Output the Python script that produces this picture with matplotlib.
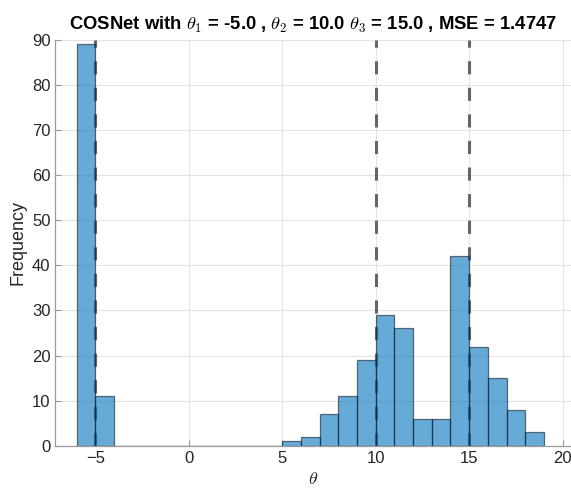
import numpy as np
import matplotlib.pyplot as plt

plt.rcParams['font.family'] = ['Liberation Sans', 'DejaVu Sans']
plt.rcParams['mathtext.fontset'] = 'cm'

# histogram of estimated theta values, unit-width bins from -6 to 19
bin_edges = np.arange(-6, 20, 1)
counts = [89, 11, 0, 0, 0, 0, 0, 0, 0, 0, 0, 1, 2, 7, 11, 19, 29, 26, 6, 6, 42, 22, 15, 8, 3]
true_thetas = [-5.0, 10.0, 15.0]
mse = 1.4747

fig = plt.figure(figsize=(5.71, 4.92), dpi=100)
ax = fig.add_axes([0.097, 0.094, 0.903, 0.825])

for t in true_thetas:
    ax.axvline(t, color='#666666', linestyle=(0, (4.3, 4.4)), linewidth=2.2, zorder=1)

ax.bar(bin_edges[:-1], counts, width=1, align='edge', color='#0072BD', alpha=0.6,
       edgecolor='#0b1a26', linewidth=0.9, zorder=2)

ax.set_xlim(-7.13, 20.45)
ax.set_ylim(0, 90)
ax.set_xticks([-5, 0, 5, 10, 15, 20])
ax.set_yticks(np.arange(0, 91, 10))
ax.grid(True, color='#e4e4e4', linewidth=0.8, zorder=0)
ax.set_axisbelow(True)
for s in ['top', 'right']:
    ax.spines[s].set_visible(False)
for s in ['left', 'bottom']:
    ax.spines[s].set_color('#9a9a9a')
    ax.spines[s].set_linewidth(0.9)
ax.tick_params(direction='in', length=4, color='#9a9a9a', labelsize=12, labelcolor='#262626')

ax.set_xlabel(r'$\theta$', fontsize=13, color='#262626', labelpad=4)
ax.set_ylabel('Frequency', fontsize=13, color='#262626', labelpad=4)
ax.set_title(r'COSNet with $\theta_{\mathbf{1}}$ = %.1f , $\theta_{\mathbf{2}}$ = %.1f $\theta_{\mathbf{3}}$ = %.1f , MSE = %.4f'
             % (true_thetas[0], true_thetas[1], true_thetas[2], mse),
             fontsize=13.3, fontweight='bold', pad=7)

fig.savefig('out.png', dpi=100)
